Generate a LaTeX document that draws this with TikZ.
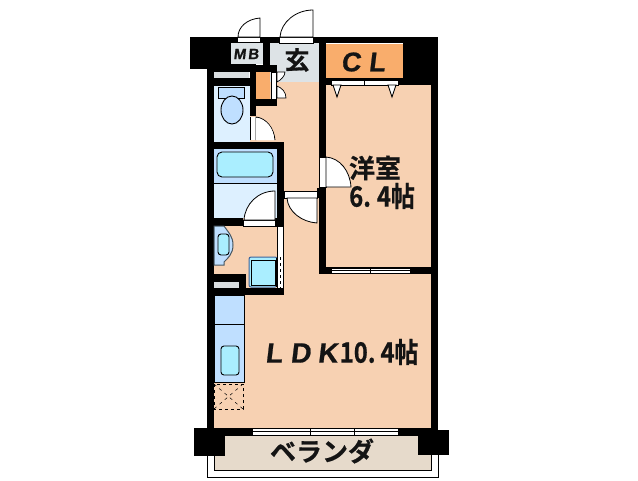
\documentclass[tikz,border=0pt]{standalone}
\usepackage{fontspec}
\newfontfamily\jpfont{Noto Sans CJK JP Bold}[FakeBold=0.6]
\newfontfamily\jptall{Noto Sans CJK JP Bold}[FakeStretch=0.85,FakeBold=0.6]
\newfontfamily\latinb{Liberation Sans Bold}[FakeBold=0.6]
\newfontfamily\latinw{Liberation Sans Bold}[FakeSlant=0.12,FakeBold=0.8]
\definecolor{peach}{HTML}{F7D1B2}
\definecolor{closet}{HTML}{F9AD6C}
\definecolor{palebl}{HTML}{DDF0FF}
\definecolor{midbl}{HTML}{BFDFFF}
\definecolor{cyanbl}{HTML}{AAEEFF}
\definecolor{entry}{HTML}{DDE3E6}
\definecolor{stor}{HTML}{D9DEE0}
\definecolor{balc}{HTML}{E6DACB}
\tikzset{
  wall/.style={fill=black,draw=none},
  doorleaf/.style={fill=white,draw=black,line width=0.8pt},
  strip/.style={fill=white,draw=black,line width=0.7pt},
  fix/.style={draw=black,line width=0.9pt},
  lbl/.style={inner sep=0pt,text=black!92,font=\jpfont},
}
\begin{document}
\begin{tikzpicture}[x=1pt,y=-1pt]
\useasboundingbox (0,0) rectangle (638,480);
\fill[white] (0,0) rectangle (638,480);
% balcony
\draw[black,line width=1pt,fill=white] (207,435) rectangle (438,477);
\draw[black,line width=0.8pt,fill=balc] (214,435) rectangle (431,470);
% floors
\fill[peach] (214,80) rectangle (431,430);
\fill[entry] (270,43) rectangle (319,82);
\fill[palebl] (214,86) rectangle (250,142);
\fill[palebl] (214,149) rectangle (277,218);
\fill[midbl] (214,149) rectangle (277,183);
\draw[black,line width=0.6pt] (214,183) -- (277,183);
% walls
\fill[wall] (190,37) rectangle (438,43);
\fill[wall] (190,37) rectangle (207,69);
\fill[wall] (207,37) rectangle (214,430);
\fill[wall] (431,37) rectangle (438,435);
\fill[wall] (207,43) rectangle (231,64);
\fill[wall] (263,43) rectangle (270,65);
\fill[wall] (207,64) rectangle (256,72);
\fill[wall] (253,65) rectangle (277,72);
\fill[wall] (214,78) rectangle (256,86);
\fill[wall] (250,72) rectangle (256,116);
\fill[wall] (256,99) rectangle (277,106);
\fill[wall] (319,43) rectangle (326,274);
\fill[wall] (403,43) rectangle (431,85);
\fill[wall] (326,78) rectangle (431,85);
\fill[wall] (319,267) rectangle (431,274);
\fill[wall] (207,142) rectangle (284,149);
\fill[wall] (277,142) rectangle (284,227);
\fill[wall] (214,218) rectangle (243,226);
\fill[wall] (275,218) rectangle (284,227);
\fill[wall] (214,274) rectangle (246,295);
\fill[wall] (246,288) rectangle (284,295);
\fill[wall] (207,428) rectangle (431,435);
\fill[wall] (194,428) rectangle (225,456);
\fill[wall] (418,430) rectangle (449,455);
% storage
\fill[stor] (214,72) rectangle (249,78);
\fill[stor] (214,282) rectangle (239,288);
\fill[closet] (256,72) rectangle (270,99);
\fill[closet] (326,44) rectangle (403,78);
\fill[entry] (231,43) rectangle (263,64);
% toilet
\draw[fix,fill=midbl] (218,87) rectangle (244,98);
\draw[fix,fill=midbl] (232,110) ellipse (11 and 14);
% bath
\draw[fix,fill=cyanbl,rounded corners=5pt] (217,152) rectangle (273,177);
% washroom door
\draw[strip] (243,220) rectangle (275,226);
\draw[doorleaf] (275,220) -- (275,191) .. controls (258,191) and (245,204) .. (244,220) -- cycle;
% basin
\draw[black!70!cyan,line width=1pt,fill=midbl] (214,226) -- (224,226) .. controls (228,232) and (233,236) .. (233,245) .. controls (233,254) and (228,258) .. (224,262) -- (224,265) -- (214,265) -- cycle;
\draw[fix,fill=cyanbl,rounded corners=3pt] (218,234) rectangle (229,255);
% washing pan
\draw[black!45!cyan!60!blue,line width=1pt,fill=cyanbl,rounded corners=2pt] (249,257) rectangle (277,287);
\draw[fix] (251,260) rectangle (275,285);
\fill[black] (276,258) rectangle (277,287);
% sliding door by wash area
\fill[white] (277,227) rectangle (283,288);
\draw[black,line width=0.7pt] (277,227) -- (277,288) (283,227) -- (283,288);
\draw[black,line width=0.7pt,dashed] (280,257) -- (280,288);
% kitchen
\draw[black,line width=0.8pt,fill=midbl] (214,295) rectangle (244,382);
\draw[black,line width=0.8pt] (214,324) -- (244,324);
\draw[fix,fill=cyanbl,rounded corners=3pt] (221,346) rectangle (239,375);
\draw[black,line width=0.7pt,dashed] (214,384) rectangle (243,409);
\draw[black,line width=0.5pt,dash pattern=on 3pt off 4pt] (214,384) -- (243,409) (243,384) -- (214,409);
% entrance doors on top wall
\draw[strip] (237,37) rectangle (260,42);
\draw[doorleaf] (260,37) -- (260,18) .. controls (247,19) and (238,27) .. (238,37) -- cycle;
\draw[strip] (279,37) rectangle (313,43);
\draw[doorleaf] (313,37) -- (313,10) .. controls (296,10) and (281,22) .. (280,37) -- cycle;
% shoe closet door
\draw[strip] (271,72) rectangle (276,99);
\draw[black,line width=0.7pt,fill=white] (277,72) -- (285,72) .. controls (285,76) and (281,80) .. (277,82) -- cycle;
\draw[black,line width=0.7pt,fill=white] (277,98) -- (286,98) .. controls (286,92) and (282,88) .. (277,86) -- cycle;
% toilet door
\fill[white] (250,117) rectangle (256,140);
\draw[black,line width=0.7pt] (250,117) -- (250,140) (256,117) -- (256,140);
\draw[doorleaf] (256,140) -- (256,117) .. controls (266,118) and (274,128) .. (275,140);
\fill[white] (256,118) -- (256,140) -- (274,140) .. controls (274,128) and (266,119) .. (256,118);
% bedroom door
\draw[strip] (319,157) rectangle (326,187);
\draw[doorleaf] (326,187) -- (326,157) .. controls (340,158) and (350,171) .. (351,187) -- cycle;
% hall door
\draw[strip] (284,191) rectangle (317,198);
\fill[wall] (317,188) rectangle (326,198);
\draw[doorleaf] (317,198) -- (317,223) .. controls (302,222) and (288,212) .. (287,198) -- cycle;
% closet doors
\draw[strip] (331,80) rectangle (398,85);
\draw[black,line width=0.7pt] (364,80) -- (364,85);
\draw[fix,fill=white] (333,85) -- (341,85) -- (337,97) -- cycle;
\draw[fix,fill=white] (388,85) -- (396,85) -- (392,97) -- cycle;
% bedroom window
\draw[strip] (331,268) rectangle (410,273);
\draw[black,line width=0.6pt] (331,270.5) -- (410,270.5) (370,268) -- (370,273);
% balcony window
\draw[strip] (252,428) rectangle (398,435);
\draw[black,line width=0.7pt] (252,431.5) -- (398,431.5) (310,428) -- (310,435) (354,428) -- (354,435);
% labels
\node[lbl,font=\latinw\fontsize{15}{15}\selectfont] (mb) at (246,54) {M\hspace{2pt}B};
\node[lbl,font=\jpfont\fontsize{25}{25}\selectfont] (gen) at (297,60) {玄};
\node[lbl,font=\latinw\fontsize{27}{27}\selectfont] (cl) at (363,62) {C\hspace{8pt}L};
\node[lbl,font=\jpfont\fontsize{26}{26}\selectfont] (yo) at (375,168) {洋室};
\node[lbl,font=\jptall\fontsize{28}{28}\selectfont,anchor=west] (sz1) at (349,196) {6.\hspace{6pt}4帖};
\node[lbl,font=\jptall\fontsize{28}{28}\selectfont,anchor=west] (ldk) at (265,352) {\latinw L\hspace{8pt}D\hspace{7pt}K\hspace{2pt}\jptall 10.\hspace{5pt}4帖};
\node[lbl,font=\jpfont\fontsize{26}{26}\selectfont] (ver) at (322,451) {ベランダ};
\end{tikzpicture}
\end{document}
